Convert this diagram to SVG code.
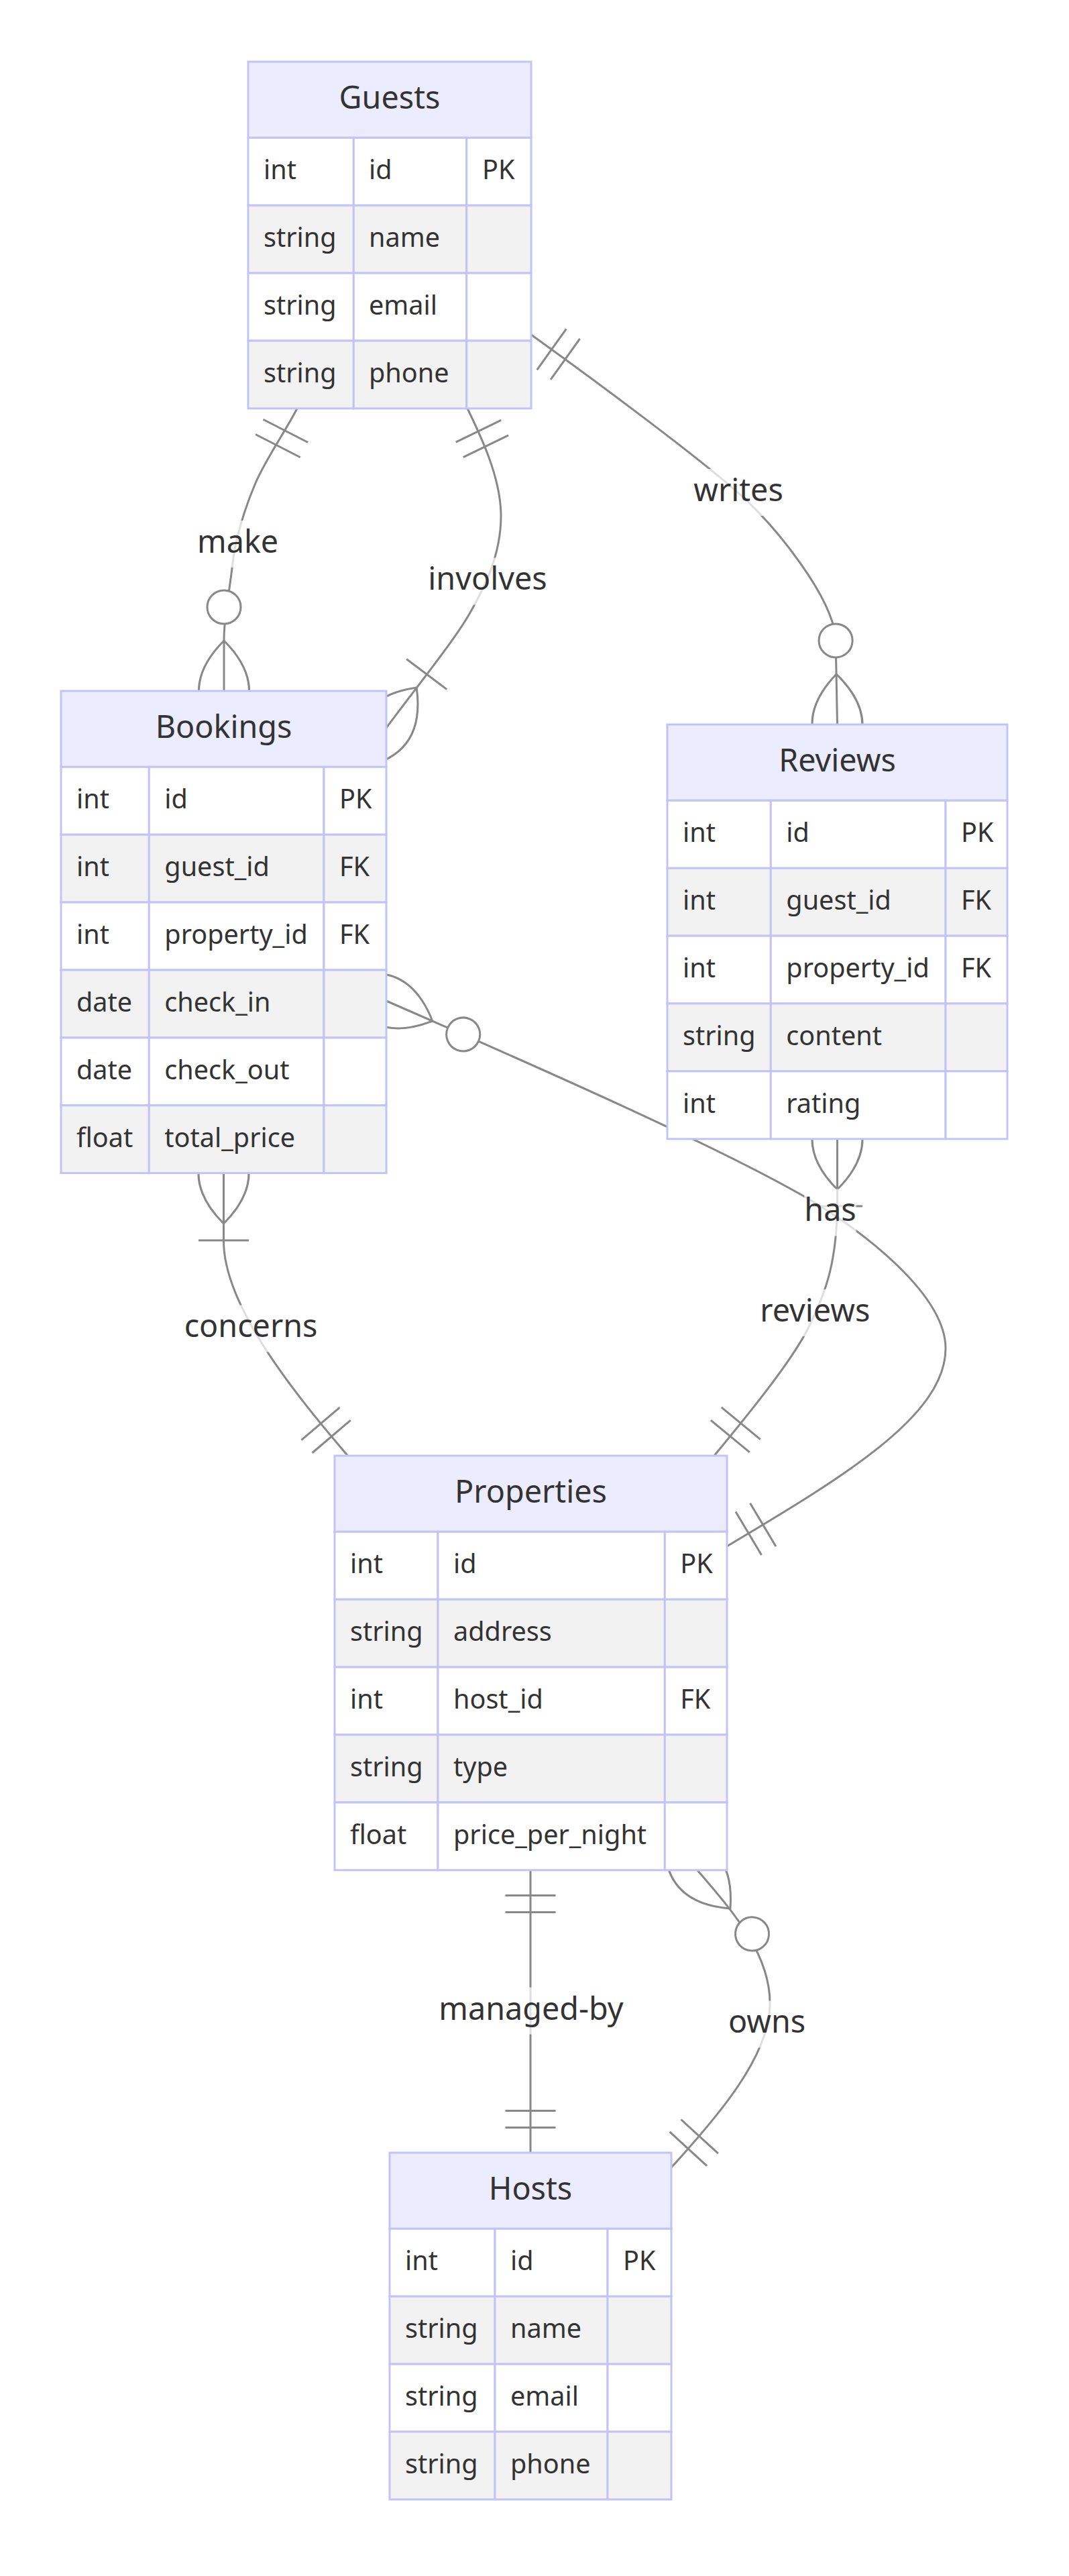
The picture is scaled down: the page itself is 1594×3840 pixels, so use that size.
<svg xmlns="http://www.w3.org/2000/svg" width="1594" height="3840" viewBox="0 0 1594 3840">
<style>
.bg{fill:#ffffff}
.hdr{fill:#ececff;stroke:#c3c3f5;stroke-width:3}
.odd{fill:#ffffff;stroke:#c3c3f5;stroke-width:3}
.even{fill:#f2f2f2;stroke:#c3c3f5;stroke-width:3}
.ename{font-family:"Noto Sans","DejaVu Sans",sans-serif;font-size:46.7px;fill:#333333;text-anchor:middle}
.attr{font-family:"Noto Sans","DejaVu Sans",sans-serif;font-size:39.6px;fill:#333333}
.lbl{font-family:"Noto Sans","DejaVu Sans",sans-serif;font-size:46.7px;fill:#333333;text-anchor:middle}
.lblbg{fill:#ffffff;fill-opacity:0.72}
.rel{fill:none;stroke:#888888;stroke-width:3}
.mk{fill:none;stroke:#888888;stroke-width:0.72}
.mkc{fill:#ffffff;stroke:#888888;stroke-width:0.72}
</style>
<defs>
<marker id="oneStart" viewBox="0 0 18 18" markerUnits="userSpaceOnUse" markerWidth="75.06" markerHeight="75.06" refX="0" refY="9" orient="auto" overflow="visible"><path class="mk" d="M9,0 L9,18 M15,0 L15,18"/></marker>
<marker id="oneEnd" viewBox="0 0 18 18" markerUnits="userSpaceOnUse" markerWidth="75.06" markerHeight="75.06" refX="18" refY="9" orient="auto" overflow="visible"><path class="mk" d="M3,0 L3,18 M9,0 L9,18"/></marker>
<marker id="zeroManyStart" viewBox="0 0 57 36" markerUnits="userSpaceOnUse" markerWidth="237.69" markerHeight="150.12" refX="18" refY="18" orient="auto" overflow="visible"><circle class="mkc" cx="48" cy="18" r="6"/><path class="mk" d="M0,18 Q18,0 36,18 Q18,36 0,18"/></marker>
<marker id="zeroManyEnd" viewBox="0 0 57 36" markerUnits="userSpaceOnUse" markerWidth="237.69" markerHeight="150.12" refX="39" refY="18" orient="auto" overflow="visible"><circle class="mkc" cx="9" cy="18" r="6"/><path class="mk" d="M21,18 Q39,0 57,18 Q39,36 21,18"/></marker>
<marker id="oneManyStart" viewBox="0 0 45 36" markerUnits="userSpaceOnUse" markerWidth="187.65" markerHeight="150.12" refX="18" refY="18" orient="auto" overflow="visible"><path class="mk" d="M0,18 Q18,0 36,18 Q18,36 0,18 M42,9 L42,27"/></marker>
<marker id="oneManyEnd" viewBox="0 0 45 36" markerUnits="userSpaceOnUse" markerWidth="187.65" markerHeight="150.12" refX="27" refY="18" orient="auto" overflow="visible"><path class="mk" d="M3,9 L3,27 M9,18 Q27,0 45,18 Q27,36 9,18"/></marker>
</defs>
<rect class="bg" x="0" y="0" width="1594" height="3840"/>

<g id="connectors">
<path id="rel-make" class="rel" d="M443,609 C425,644 397,683 381,720 C365,758 350,805 346,847 C341,890 334,920 334,953 L334,1030" marker-start="url(#oneStart)" marker-end="url(#zeroManyEnd)"/>
<path id="rel-involves" class="rel" d="M697,609 C716,648 747,712 747,769 C747,830 720,880 700,915 C680,950 640,1000 576,1085" marker-start="url(#oneStart)" marker-end="url(#oneManyEnd)"/>
<path id="rel-writes" class="rel" d="M792,499 C890,569 1040,681 1100,734 C1160,787 1240,890 1246,950 L1248.5,1080" marker-start="url(#oneStart)" marker-end="url(#zeroManyEnd)"/>
<path id="rel-concerns" class="rel" d="M333.5,1749 L333.5,1850 C333.5,1950 447,2086 518.5,2170" marker-start="url(#oneManyStart)" marker-end="url(#oneEnd)"/>
<path id="rel-has" class="rel" d="M576,1492 C805.5,1592 1070,1709 1200,1784 C1286.5,1834 1410,1930 1410,2010 C1410,2110 1260,2200 1084,2305" marker-start="url(#zeroManyStart)" marker-end="url(#oneEnd)"/>
<path id="rel-reviews" class="rel" d="M1248.5,1698 L1248.5,1790 C1248.5,1880 1231.8,1926.4 1205,1980 C1178.2,2033.6 1103.1,2123.7 1065,2170" marker-start="url(#oneManyStart)" marker-end="url(#oneEnd)"/>
<path id="rel-managed-by" class="rel" d="M791,2788 L791,3209" marker-start="url(#oneStart)" marker-end="url(#oneEnd)"/>
<path id="rel-owns" class="rel" d="M1040,2788 C1095,2852 1150,2915 1148,2990 C1146,3065 1075,3150 1001,3231" marker-start="url(#zeroManyStart)" marker-end="url(#oneEnd)"/>
</g>

<g id="labels">
<g id="label-make"><rect class="lblbg" x="294" y="776" width="121" height="70"/><text class="lbl" x="354.6" y="823.5">make</text></g>
<g id="label-involves"><rect class="lblbg" x="638" y="831.5" width="178" height="70"/><text class="lbl" x="727" y="879">involves</text></g>
<g id="label-writes"><rect class="lblbg" x="1033.5" y="699" width="135" height="70"/><text class="lbl" x="1101" y="746.5">writes</text></g>
<g id="label-concerns"><rect class="lblbg" x="274.5" y="1945.5" width="199" height="70"/><text class="lbl" x="374" y="1993">concerns</text></g>
<g id="label-has"><rect class="lblbg" x="1199.3" y="1772.5" width="77.4" height="70"/><text class="lbl" x="1238" y="1820">has</text></g>
<g id="label-reviews"><rect class="lblbg" x="1131" y="1922" width="169" height="70"/><text class="lbl" x="1215.3" y="1969.5">reviews</text></g>
<g id="label-managed-by"><rect class="lblbg" x="654" y="2962.5" width="276" height="70"/><text class="lbl" x="792" y="3010.5">managed-by</text></g>
<g id="label-owns"><rect class="lblbg" x="1084.75" y="2982.5" width="117.5" height="70"/><text class="lbl" x="1143.5" y="3030">owns</text></g>
</g>

<g id="node-Guests">
<rect class="hdr" x="370" y="92" width="422" height="113.3"/>
<text class="ename" x="581" y="161.7">Guests</text>
<rect class="odd" x="370" y="205.3" width="157.3" height="100.9"/><rect class="odd" x="527.3" y="205.3" width="168.4" height="100.9"/><rect class="odd" x="695.7" y="205.3" width="96.3" height="100.9"/>
<rect class="even" x="370" y="306.2" width="157.3" height="100.9"/><rect class="even" x="527.3" y="306.2" width="168.4" height="100.9"/><rect class="even" x="695.7" y="306.2" width="96.3" height="100.9"/>
<rect class="odd" x="370" y="407.1" width="157.3" height="100.9"/><rect class="odd" x="527.3" y="407.1" width="168.4" height="100.9"/><rect class="odd" x="695.7" y="407.1" width="96.3" height="100.9"/>
<rect class="even" x="370" y="508" width="157.3" height="100.9"/><rect class="even" x="527.3" y="508" width="168.4" height="100.9"/><rect class="even" x="695.7" y="508" width="96.3" height="100.9"/>
<text class="attr" x="393" y="267.3">int</text><text class="attr" x="550" y="267.3">id</text><text class="attr" x="719" y="267.3">PK</text>
<text class="attr" x="393" y="368.2">string</text><text class="attr" x="550" y="368.2">name</text>
<text class="attr" x="393" y="469.1">string</text><text class="attr" x="550" y="469.1">email</text>
<text class="attr" x="393" y="570">string</text><text class="attr" x="550" y="570">phone</text>
</g>

<g id="node-Bookings">
<rect class="hdr" x="91" y="1030" width="485" height="113.3"/>
<text class="ename" x="333.5" y="1099.7">Bookings</text>
<rect class="odd" x="91" y="1143.3" width="131.3" height="100.9"/><rect class="odd" x="222.3" y="1143.3" width="260.7" height="100.9"/><rect class="odd" x="483" y="1143.3" width="93" height="100.9"/>
<rect class="even" x="91" y="1244.2" width="131.3" height="100.9"/><rect class="even" x="222.3" y="1244.2" width="260.7" height="100.9"/><rect class="even" x="483" y="1244.2" width="93" height="100.9"/>
<rect class="odd" x="91" y="1345.1" width="131.3" height="100.9"/><rect class="odd" x="222.3" y="1345.1" width="260.7" height="100.9"/><rect class="odd" x="483" y="1345.1" width="93" height="100.9"/>
<rect class="even" x="91" y="1446" width="131.3" height="100.9"/><rect class="even" x="222.3" y="1446" width="260.7" height="100.9"/><rect class="even" x="483" y="1446" width="93" height="100.9"/>
<rect class="odd" x="91" y="1546.9" width="131.3" height="100.9"/><rect class="odd" x="222.3" y="1546.9" width="260.7" height="100.9"/><rect class="odd" x="483" y="1546.9" width="93" height="100.9"/>
<rect class="even" x="91" y="1647.8" width="131.3" height="100.9"/><rect class="even" x="222.3" y="1647.8" width="260.7" height="100.9"/><rect class="even" x="483" y="1647.8" width="93" height="100.9"/>
<text class="attr" x="114" y="1205.3">int</text><text class="attr" x="245.3" y="1205.3">id</text><text class="attr" x="506" y="1205.3">PK</text>
<text class="attr" x="114" y="1306.2">int</text><text class="attr" x="245.3" y="1306.2">guest_id</text><text class="attr" x="506" y="1306.2">FK</text>
<text class="attr" x="114" y="1407.1">int</text><text class="attr" x="245.3" y="1407.1">property_id</text><text class="attr" x="506" y="1407.1">FK</text>
<text class="attr" x="114" y="1508">date</text><text class="attr" x="245.3" y="1508">check_in</text>
<text class="attr" x="114" y="1608.9">date</text><text class="attr" x="245.3" y="1608.9">check_out</text>
<text class="attr" x="114" y="1709.8">float</text><text class="attr" x="245.3" y="1709.8">total_price</text>
</g>

<g id="node-Reviews">
<rect class="hdr" x="995" y="1080" width="507" height="113.3"/>
<text class="ename" x="1248.5" y="1149.7">Reviews</text>
<rect class="odd" x="995" y="1193.3" width="154.3" height="100.9"/><rect class="odd" x="1149.3" y="1193.3" width="260.7" height="100.9"/><rect class="odd" x="1410" y="1193.3" width="92" height="100.9"/>
<rect class="even" x="995" y="1294.2" width="154.3" height="100.9"/><rect class="even" x="1149.3" y="1294.2" width="260.7" height="100.9"/><rect class="even" x="1410" y="1294.2" width="92" height="100.9"/>
<rect class="odd" x="995" y="1395.1" width="154.3" height="100.9"/><rect class="odd" x="1149.3" y="1395.1" width="260.7" height="100.9"/><rect class="odd" x="1410" y="1395.1" width="92" height="100.9"/>
<rect class="even" x="995" y="1496" width="154.3" height="100.9"/><rect class="even" x="1149.3" y="1496" width="260.7" height="100.9"/><rect class="even" x="1410" y="1496" width="92" height="100.9"/>
<rect class="odd" x="995" y="1596.9" width="154.3" height="100.9"/><rect class="odd" x="1149.3" y="1596.9" width="260.7" height="100.9"/><rect class="odd" x="1410" y="1596.9" width="92" height="100.9"/>
<text class="attr" x="1018" y="1255.3">int</text><text class="attr" x="1172.3" y="1255.3">id</text><text class="attr" x="1433" y="1255.3">PK</text>
<text class="attr" x="1018" y="1356.2">int</text><text class="attr" x="1172.3" y="1356.2">guest_id</text><text class="attr" x="1433" y="1356.2">FK</text>
<text class="attr" x="1018" y="1457.1">int</text><text class="attr" x="1172.3" y="1457.1">property_id</text><text class="attr" x="1433" y="1457.1">FK</text>
<text class="attr" x="1018" y="1558">string</text><text class="attr" x="1172.3" y="1558">content</text>
<text class="attr" x="1018" y="1658.9">int</text><text class="attr" x="1172.3" y="1658.9">rating</text>
</g>

<g id="node-Properties">
<rect class="hdr" x="499" y="2170" width="585" height="113.3"/>
<text class="ename" x="791.5" y="2239.7">Properties</text>
<rect class="odd" x="499" y="2283.3" width="154" height="100.9"/><rect class="odd" x="653" y="2283.3" width="338.3" height="100.9"/><rect class="odd" x="991.3" y="2283.3" width="92.7" height="100.9"/>
<rect class="even" x="499" y="2384.2" width="154" height="100.9"/><rect class="even" x="653" y="2384.2" width="338.3" height="100.9"/><rect class="even" x="991.3" y="2384.2" width="92.7" height="100.9"/>
<rect class="odd" x="499" y="2485.1" width="154" height="100.9"/><rect class="odd" x="653" y="2485.1" width="338.3" height="100.9"/><rect class="odd" x="991.3" y="2485.1" width="92.7" height="100.9"/>
<rect class="even" x="499" y="2586" width="154" height="100.9"/><rect class="even" x="653" y="2586" width="338.3" height="100.9"/><rect class="even" x="991.3" y="2586" width="92.7" height="100.9"/>
<rect class="odd" x="499" y="2686.9" width="154" height="100.9"/><rect class="odd" x="653" y="2686.9" width="338.3" height="100.9"/><rect class="odd" x="991.3" y="2686.9" width="92.7" height="100.9"/>
<text class="attr" x="522" y="2345.3">int</text><text class="attr" x="676" y="2345.3">id</text><text class="attr" x="1014.3" y="2345.3">PK</text>
<text class="attr" x="522" y="2446.2">string</text><text class="attr" x="676" y="2446.2">address</text>
<text class="attr" x="522" y="2547.1">int</text><text class="attr" x="676" y="2547.1">host_id</text><text class="attr" x="1014.3" y="2547.1">FK</text>
<text class="attr" x="522" y="2648">string</text><text class="attr" x="676" y="2648">type</text>
<text class="attr" x="522" y="2748.9">float</text><text class="attr" x="676" y="2748.9">price_per_night</text>
</g>

<g id="node-Hosts">
<rect class="hdr" x="581" y="3209" width="420" height="113.3"/>
<text class="ename" x="791" y="3278.7">Hosts</text>
<rect class="odd" x="581" y="3322.3" width="157" height="100.9"/><rect class="odd" x="738" y="3322.3" width="168" height="100.9"/><rect class="odd" x="906" y="3322.3" width="95" height="100.9"/>
<rect class="even" x="581" y="3423.2" width="157" height="100.9"/><rect class="even" x="738" y="3423.2" width="168" height="100.9"/><rect class="even" x="906" y="3423.2" width="95" height="100.9"/>
<rect class="odd" x="581" y="3524.1" width="157" height="100.9"/><rect class="odd" x="738" y="3524.1" width="168" height="100.9"/><rect class="odd" x="906" y="3524.1" width="95" height="100.9"/>
<rect class="even" x="581" y="3625" width="157" height="100.9"/><rect class="even" x="738" y="3625" width="168" height="100.9"/><rect class="even" x="906" y="3625" width="95" height="100.9"/>
<text class="attr" x="604" y="3384.3">int</text><text class="attr" x="761" y="3384.3">id</text><text class="attr" x="929" y="3384.3">PK</text>
<text class="attr" x="604" y="3485.2">string</text><text class="attr" x="761" y="3485.2">name</text>
<text class="attr" x="604" y="3586.1">string</text><text class="attr" x="761" y="3586.1">email</text>
<text class="attr" x="604" y="3687">string</text><text class="attr" x="761" y="3687">phone</text>
</g>
</svg>
